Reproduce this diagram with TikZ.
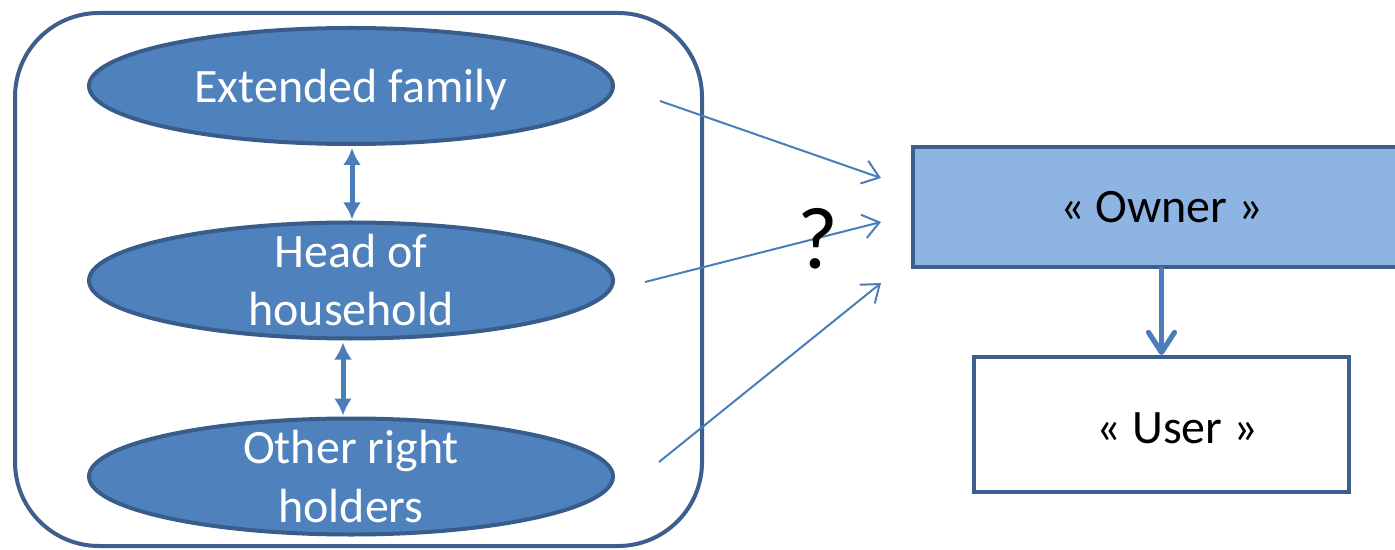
\documentclass[tikz,border=0pt]{standalone}
\usepackage{fontspec}
\setmainfont{Carlito}
\usetikzlibrary{shapes.geometric,arrows.meta,calc}
\definecolor{ellfill}{HTML}{4F81BD}
\definecolor{ellline}{HTML}{385D8A}
\definecolor{boxline}{HTML}{3C5F8D}
\definecolor{ownerfill}{HTML}{8EB4E3}
\definecolor{arrowblue}{HTML}{4A7EBB}
\begin{document}
\begin{tikzpicture}[x=0.5pt,y=-0.5pt,
  role/.style={ellipse,draw=ellline,fill=ellfill,line width=2pt,
    minimum width=262pt,minimum height=58pt,inner sep=0pt},
  roletext/.style={text=white,anchor=base,inner sep=0pt,font=\fontsize{24}{29}\selectfont},
  linkarrow/.style={draw=arrowblue,line width=2.5pt,
    {Latex[length=8.5pt,width=9pt]}-{Latex[length=8.5pt,width=9pt]}},
  thinarrow/.style={draw=arrowblue,line width=1pt,
    -{Straight Barb[length=8pt,width=12pt]}},
  statusbox/.style={rectangle,draw=boxline,line width=2pt,inner sep=0pt,
    font=\fontsize{24}{29}\selectfont}]
  \useasboundingbox (0,0) rectangle (1395,550);
  \clip (0,0) rectangle (1395,550);

  % group of right holders
  \draw[boxline,line width=2pt,rounded corners=42pt] (15,13) rectangle (702,546);

  \node[role] (ext) at (351,86) {};
  \node[roletext] (extt) at (351,103) {Extended family};
  \node[role] (head) at (351,280.5) {};
  \node[roletext] (headt1) at (351,268) {Head of};
  \node[roletext] (headt2) at (351,326) {household};
  \node[role] (other) at (351,476.5) {};
  \node[roletext] (othert1) at (351,463) {Other right};
  \node[roletext] (othert2) at (351,522) {holders};

  \draw[linkarrow] ($(ext.south)+(1,2)$) -- ($(head.north)+(1,-1)$);
  \draw[linkarrow] ($(head.south)+(-8,2)$) -- ($(other.north)+(-8,-1)$);

  % status boxes
  \node[statusbox,fill=ownerfill,minimum width=248.5pt,minimum height=60pt]
    (owner) at (1161.5,207) {« Owner »};
  \node[statusbox,fill=white,minimum width=187.5pt,minimum height=67.5pt,
    label={[font=\fontsize{24}{29}\selectfont,xshift=8pt,yshift=-2pt]center:« User »}]
    (user) at (1161.5,424.5) {};

  \draw[draw=arrowblue,line width=2.6pt,line cap=round,
    -{Straight Barb[length=10pt,width=13pt,round]}] (owner.south) -- (user.north);

  % links from the group to the owner status
  \coordinate (s1) at (660,101);
  \coordinate (s2) at (645,282);
  \coordinate (s3) at (659,462);
  \coordinate (t1) at ($(owner.west)+(-30,-29)$);
  \coordinate (t2) at ($(owner.west)+(-30,15)$);
  \coordinate (t3) at ($(owner.west)+(-30,76)$);
  \draw[thinarrow] (s1) -- (t1);
  \draw[thinarrow] (s2) -- (t2);
  \draw[thinarrow] (s3) -- (t3);

  \node[font=\fontsize{44}{50}\selectfont,inner sep=0pt] (q) at (818,239) {?};
\end{tikzpicture}
\end{document}
